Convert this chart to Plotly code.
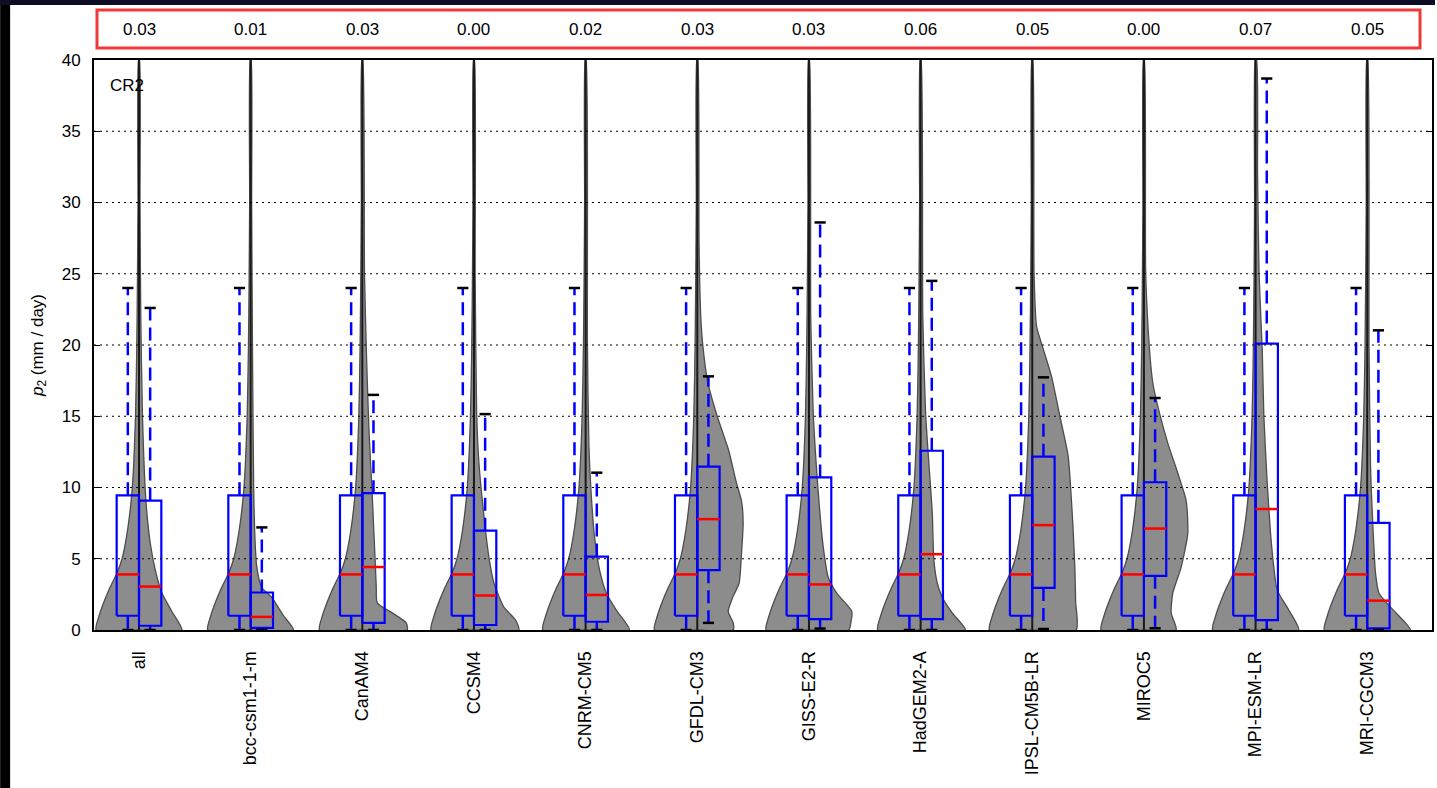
import plotly.graph_objects as go

# ---------------- data ----------------
models = ["all", "bcc-csm1-1-m", "CanAM4", "CCSM4", "CNRM-CM5", "GFDL-CM3",
          "GISS-E2-R", "HadGEM2-A", "IPSL-CM5B-LR", "MIROC5", "MPI-ESM-LR", "MRI-CGCM3"]
top_values = ["0.03", "0.01", "0.03", "0.00", "0.02", "0.03",
              "0.03", "0.06", "0.05", "0.00", "0.07", "0.05"]

# reference ("all") distribution: left half of every violin, left box
ref_q1, ref_median, ref_q3, ref_low, ref_high = 1.0, 3.9, 9.45, 0.0, 24.0
ref_dens_y = [0, 1, 2, 3, 4, 5, 7, 10, 15, 20, 25, 30, 40]
ref_dens_w = [43, 40, 35, 29, 22, 17, 11.5, 6.7, 3.5, 2.2, 1.5, 1, 0.5]

# per-model box statistics (right box)
model_q1 = [0.3, 0.15, 0.5, 0.35, 0.58, 4.2, 0.77, 0.77, 2.95, 3.8, 0.7, 0.12]
model_median = [3.05, 0.92, 4.42, 2.42, 2.46, 7.78, 3.2, 5.32, 7.36, 7.12, 8.49, 2.06]
model_q3 = [9.08, 2.63, 9.6, 6.97, 5.15, 11.46, 10.71, 12.58, 12.16, 10.37, 20.1, 7.52]
model_low = [0, 0, 0, 0, 0, 0.5, 0.1, 0, 0.07, 0.12, 0, 0]
model_high = [22.6, 7.2, 16.5, 15.15, 11.04, 17.8, 28.6, 24.5, 17.73, 16.28, 38.7, 21.03]

# per-model density profiles (right half of violin), relative widths
model_dens_y = [
    [0, 1.3, 2.6, 4, 6, 9, 15, 22, 30, 40],
    [0, 1, 2.3, 3, 4.5, 7, 10, 20, 30, 40],
    [0, 0.5, 1.2, 1.9, 3, 4.7, 7, 9.4, 14, 19, 25, 40],
    [0, 0.7, 1.6, 3.3, 5.1, 8, 11.7, 15.2, 25, 40],
    [0, 1.4, 2.6, 4.2, 6.5, 9.4, 12.9, 20, 40],
    [0, 0.5, 1.3, 2.2, 3.3, 5, 7.5, 9, 10.4, 12.6, 15, 17.4, 20, 22, 27, 40],
    [0, 0.5, 1.3, 2.6, 3.7, 5.85, 8.2, 11.2, 15.2, 22, 40],
    [0, 1.2, 2.3, 3.3, 4.9, 8.2, 11.7, 15.2, 22, 40],
    [0, 2, 4.4, 7, 9.1, 12.2, 15, 17.8, 20.1, 21.3, 25, 40],
    [0, 1.2, 2.6, 4.4, 6.8, 9.1, 11, 13.1, 15.2, 17.3, 19.6, 25, 40],
    [0, 1.4, 2.8, 4.4, 6.8, 10.3, 15, 19.6, 25, 32, 40],
    [0, 1.6, 2.6, 4, 6.8, 11.5, 20, 40],
]
model_dens_w = [
    [43, 33, 23, 17, 11.5, 7, 3.5, 1.8, 1, 0.5],
    [43, 33, 21, 11, 6, 4, 3, 1.8, 1, 0.5],
    [45, 44, 30, 15, 14, 13, 11.5, 10, 6.7, 4.3, 2.2, 0.5],
    [45, 41.7, 30, 20, 15, 10, 5, 2.7, 1.2, 0.5],
    [44, 30.7, 20.7, 14, 9, 5.7, 3.3, 1.8, 0.5],
    [36, 36, 31, 35, 42, 44, 46, 44.5, 39, 31.5, 20, 10.5, 5.5, 3.5, 1.8, 0.5],
    [40, 42, 43, 27.7, 19.3, 14.3, 11, 7.7, 4.3, 1.8, 0.5],
    [45, 31.7, 21.7, 16.7, 13.3, 11.7, 8.3, 5, 2.2, 0.5],
    [44, 43.5, 42.7, 41, 39.3, 36, 27.7, 19.3, 9.3, 4.3, 1.8, 0.5],
    [32.3, 27.3, 29, 37.3, 44, 42.3, 34, 24, 15.7, 9, 5.7, 1.8, 0.5],
    [43.3, 33.3, 21.7, 18.3, 15, 11.7, 8.3, 6.7, 3.5, 2, 1],
    [43.3, 23.3, 11.7, 8.3, 6, 3.3, 1.8, 0.5],
]

y_ticks = [0, 5, 10, 15, 20, 25, 30, 35, 40]

# ---------------- styles ----------------
VIOLIN_SCALE = 1 / 112.0   # relative width -> slot units
BOX_W = 0.2
CAP_W = 0.1
FILL = "#8c8c8c"
EDGE = "#4d4d4d"
BLUE = "#0000ff"
RED = "#ff0000"
FONT = "Liberation Sans, Arial, Helvetica, sans-serif"

fig = go.Figure()
positions = list(range(1, len(models) + 1))

# violins
for i, c in enumerate(positions):
    # left half (reference distribution)
    xs = [c] + [c - w * VIOLIN_SCALE for w in ref_dens_w] + [c]
    ys = [0] + ref_dens_y + [ref_dens_y[-1]]
    fig.add_trace(go.Scatter(x=xs, y=ys, mode="lines", fill="toself", fillcolor=FILL,
                             line=dict(color=EDGE, width=1.3, shape="spline", smoothing=0.6),
                             hoverinfo="skip", showlegend=False))
    # right half (model distribution)
    xs = [c] + [c + w * VIOLIN_SCALE for w in model_dens_w[i]] + [c]
    ys = [0] + model_dens_y[i] + [model_dens_y[i][-1]]
    fig.add_trace(go.Scatter(x=xs, y=ys, mode="lines", fill="toself", fillcolor=FILL,
                             line=dict(color=EDGE, width=1.3, shape="spline", smoothing=0.6),
                             hoverinfo="skip", showlegend=False))

# center lines
cx, cy = [], []
for c in positions:
    cx += [c, c, None]
    cy += [0, y_ticks[-1], None]
fig.add_trace(go.Scatter(x=cx, y=cy, mode="lines", line=dict(color="#1a1a1a", width=2),
                         hoverinfo="skip", showlegend=False))

# boxes, whiskers, caps, medians
bx, by, wx, wy, kx, ky, mx, my = [], [], [], [], [], [], [], []
for i, c in enumerate(positions):
    for side, q1, med, q3, lo, hi in [
        (-1, ref_q1, ref_median, ref_q3, ref_low, ref_high),
        (1, model_q1[i], model_median[i], model_q3[i], model_low[i], model_high[i]),
    ]:
        m = c + side * BOX_W / 2
        x0, x1 = m - BOX_W / 2, m + BOX_W / 2
        bx += [x0, x1, x1, x0, x0, None]
        by += [q1, q1, q3, q3, q1, None]
        wx += [m, m, None, m, m, None]
        wy += [q3, hi, None, q1, lo, None]
        kx += [m - CAP_W / 2, m + CAP_W / 2, None, m - CAP_W / 2, m + CAP_W / 2, None]
        ky += [hi, hi, None, lo, lo, None]
        mx += [x0, x1, None]
        my += [med, med, None]

fig.add_trace(go.Scatter(x=wx, y=wy, mode="lines", line=dict(color=BLUE, width=2.5, dash="13px,7px"),
                         hoverinfo="skip", showlegend=False))
fig.add_trace(go.Scatter(x=bx, y=by, mode="lines", line=dict(color=BLUE, width=2.2),
                         hoverinfo="skip", showlegend=False))
fig.add_trace(go.Scatter(x=kx, y=ky, mode="lines", line=dict(color="black", width=2.5),
                         hoverinfo="skip", showlegend=False))
fig.add_trace(go.Scatter(x=mx, y=my, mode="lines", line=dict(color=RED, width=2.5),
                         hoverinfo="skip", showlegend=False))

# ---------------- layout ----------------
W, H = 1437, 788
L, R, T, B = 94, 3, 60, 158
pw, ph = W - L - R, H - T - B


def px_x(p):
    return (p - L) / pw


def px_y(p):
    return (H - B - p) / ph


shapes = []
for yv in y_ticks[1:-1]:
    shapes.append(dict(type="line", xref="paper", yref="y", x0=0, x1=1, y0=yv, y1=yv,
                       line=dict(color="black", width=1, dash="2px,4px"), layer="above"))
# red highlight frame around top values
shapes.append(dict(type="rect", xref="paper", yref="paper",
                   x0=px_x(97), x1=px_x(1422), y0=px_y(48), y1=px_y(10),
                   line=dict(color="#f03a3a", width=3), layer="above"))
# dark page edges
shapes.append(dict(type="rect", xref="paper", yref="paper",
                   x0=px_x(0), x1=px_x(10), y0=px_y(H), y1=px_y(0),
                   line=dict(width=0), fillcolor="black", layer="above"))
shapes.append(dict(type="rect", xref="paper", yref="paper",
                   x0=px_x(0), x1=px_x(W), y0=px_y(5), y1=px_y(0),
                   line=dict(width=0), fillcolor="#0d0d26", layer="above"))

annotations = []
for c, v in zip(positions, top_values):
    annotations.append(dict(x=c, y=px_y(29), xref="x", yref="paper", text=v, showarrow=False,
                            font=dict(family=FONT, size=17, color="black"),
                            xanchor="center", yanchor="middle"))
annotations.append(dict(x=px_x(108), y=px_y(85), xref="paper", yref="paper", text="CR2",
                        showarrow=False, font=dict(family=FONT, size=17, color="black"),
                        xanchor="left", yanchor="middle"))

fig.update_layout(
    width=W, height=H,
    margin=dict(l=L, r=R, t=T, b=B, pad=0),
    paper_bgcolor="white", plot_bgcolor="white",
    showlegend=False,
    font=dict(family=FONT, size=17, color="black"),
    shapes=shapes, annotations=annotations,
    xaxis=dict(range=[0.597, 12.58], tickmode="array", tickvals=positions, ticktext=models,
               tickangle=-90, showgrid=False, zeroline=False, showline=True, linecolor="black",
               linewidth=2, mirror=True, ticks="", ticklabelstandoff=12,
               tickfont=dict(family=FONT, size=18, color="black")),
    yaxis=dict(range=[0, 40], tickmode="array", tickvals=y_ticks, showgrid=False,
               zeroline=False, showline=True, linecolor="black", linewidth=2, mirror="ticks",
               ticks="inside", ticklen=6, tickwidth=1, tickcolor="black", ticklabelstandoff=8,
               tickfont=dict(family=FONT, size=17, color="black"),
               title=dict(text="<i>p</i><sub>2</sub> (mm / day)", standoff=14,
                          font=dict(family=FONT, size=17, color="black"))),
)

fig.write_html("out.html",
               config=dict(displayModeBar=False),
               post_script="document.body.style.margin='0px';document.body.style.overflow='hidden';")
